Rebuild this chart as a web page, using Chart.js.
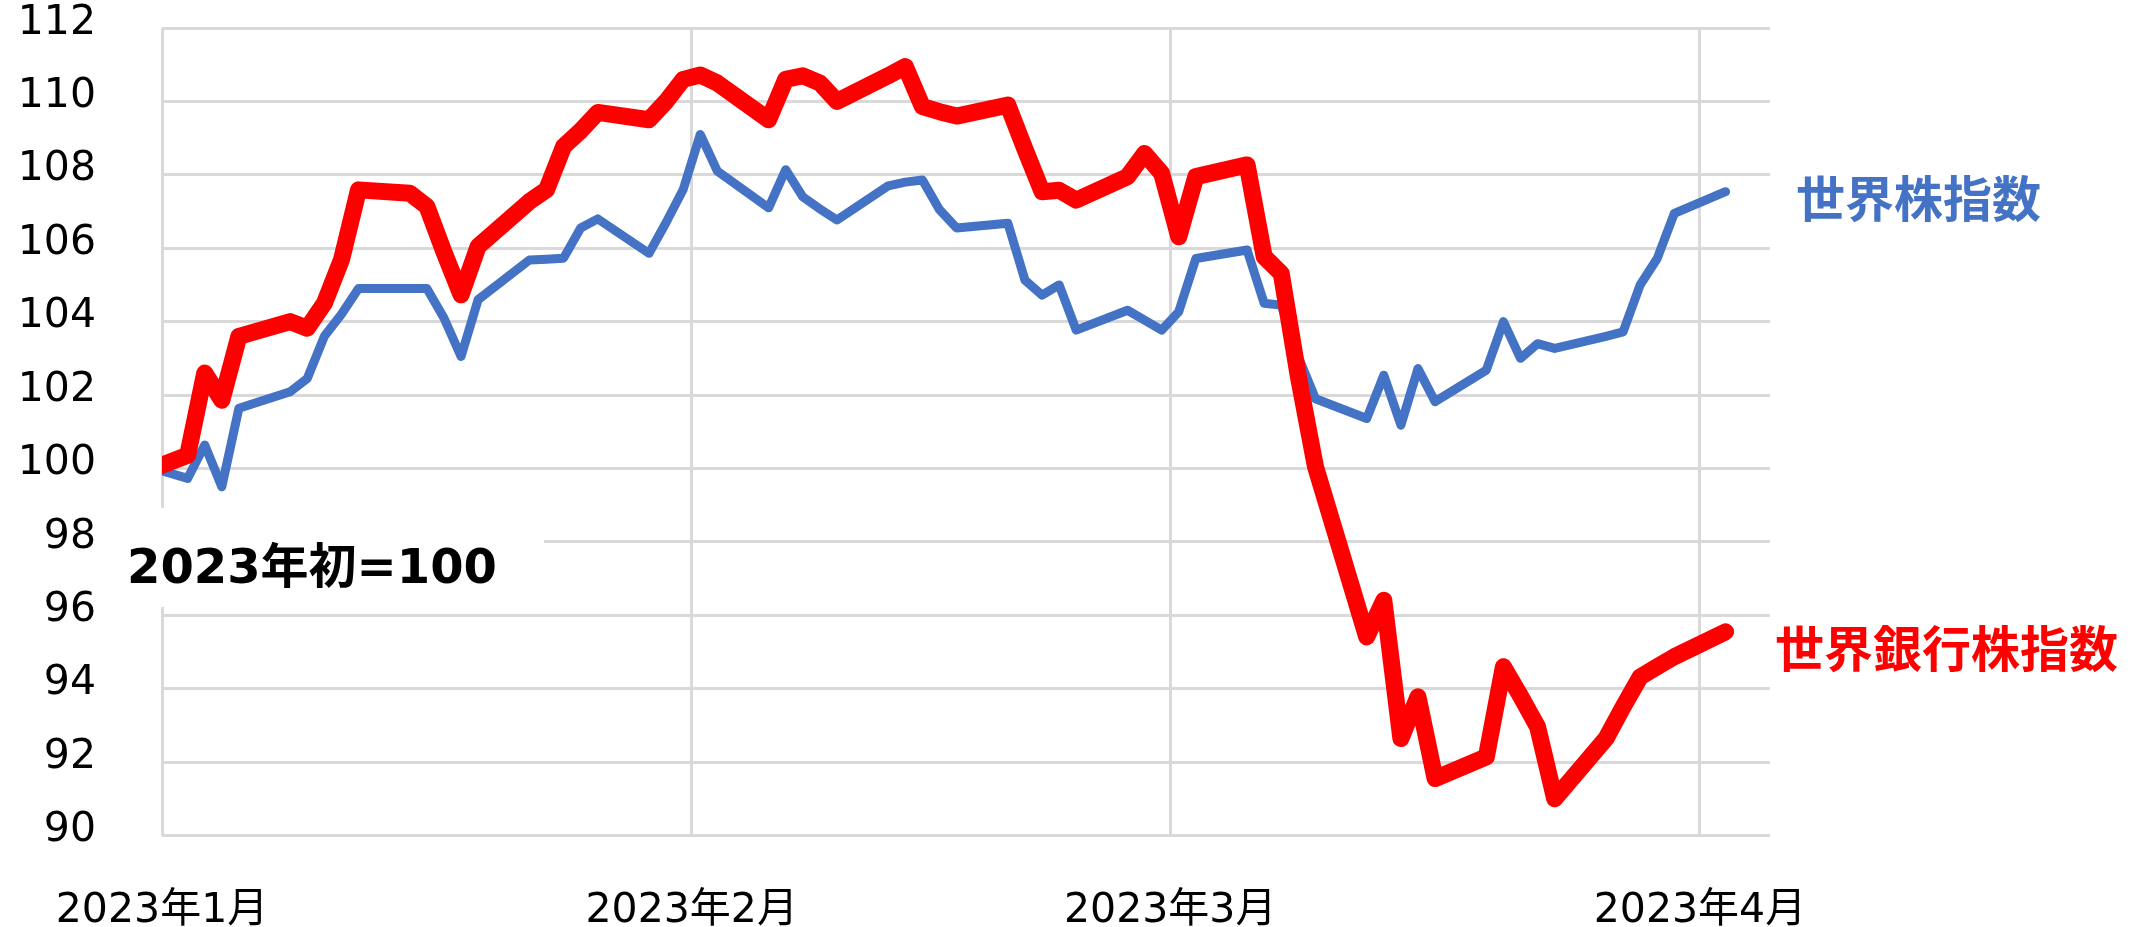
<!DOCTYPE html>
<html><head><meta charset="utf-8">
<script src="https://cdn.jsdelivr.net/npm/chart.js@4.4.0/dist/chart.umd.min.js"></script>
<style>html,body{margin:0;padding:0;background:#fff;} canvas{display:block;}</style>
</head><body>
<canvas id="c" width="2148" height="927"></canvas>
<script>
// ---- data ----
const dates = ['2023-01-01','2023-01-03','2023-01-04','2023-01-05','2023-01-06','2023-01-09','2023-01-10','2023-01-11','2023-01-12','2023-01-13',
'2023-01-16','2023-01-17','2023-01-18','2023-01-19','2023-01-20','2023-01-23','2023-01-24','2023-01-25','2023-01-26','2023-01-27',
'2023-01-30','2023-01-31','2023-02-01','2023-02-02','2023-02-03','2023-02-06','2023-02-07','2023-02-08','2023-02-09','2023-02-10',
'2023-02-13','2023-02-14','2023-02-15','2023-02-16','2023-02-17','2023-02-20','2023-02-21','2023-02-22','2023-02-23','2023-02-24',
'2023-02-27','2023-02-28','2023-03-01','2023-03-02','2023-03-03','2023-03-06','2023-03-07','2023-03-08','2023-03-09','2023-03-10',
'2023-03-13','2023-03-14','2023-03-15','2023-03-16','2023-03-17','2023-03-20','2023-03-21','2023-03-22','2023-03-23','2023-03-24',
'2023-03-27','2023-03-28','2023-03-29','2023-03-30','2023-03-31','2023-04-03'];

const worldStockIndex = [100,99.73,100.64,99.5,101.64,102.09,102.45,103.6,104.2,104.9,
104.9,104.9,104.1,103.05,104.6,105.68,105.7,105.73,106.55,106.8,
105.86,106.7,107.6,109.1,108.1,107.1,108.14,107.4,107.07,106.77,
107.7,107.8,107.86,107.05,106.55,106.68,105.13,104.72,105.0,103.77,
104.31,104.04,103.77,104.27,105.72,105.95,104.5,104.45,103.04,101.9,
101.36,102.54,101.18,102.72,101.82,102.68,104.0,103.0,103.4,103.27,
103.6,103.72,105.0,105.72,106.95,107.54];

const worldBankIndex = [100,100.36,102.6,101.86,103.6,104.0,103.82,104.5,105.68,107.59,
107.5,107.14,105.9,104.73,106.05,107.27,107.59,108.77,109.2,109.7,
109.5,110.0,110.6,110.72,110.5,109.5,110.6,110.7,110.5,110.0,
110.7,110.95,109.86,109.72,109.6,109.9,108.7,107.54,107.58,107.31,
107.95,108.58,108.04,106.31,107.95,108.27,105.77,105.31,102.5,100.05,
95.41,96.41,92.64,93.78,91.55,92.14,94.6,93.8,92.96,91.0,
92.64,93.5,94.32,94.6,94.87,95.55];

const seriesNames = ['世界株指数', '世界銀行株指数'];
const monthTickDates = ['2023-01-01','2023-02-01','2023-03-01','2023-04-01'];
const monthTickLabels = ['2023年1月','2023年2月','2023年3月','2023年4月'];
const baseNote = '2023年初=100';
const yMin = 90, yMax = 112, yStep = 2;

// ---- helpers ----
const ORIGIN = Date.UTC(2023, 0, 1);
function dayNum(s) { const [y, m, d] = s.split('-').map(Number); return (Date.UTC(y, m - 1, d) - ORIGIN) / 86400000; }
const SLOT = 0.5;          // month boundaries sit half a day after each date's position
const X_MIN = SLOT, X_MAX = 94.6;

const toPoints = vals => dates.map((d, i) => ({ x: dayNum(d), y: vals[i] }));
const tickValues = monthTickDates.map(d => dayNum(d) + SLOT);

const BLUE = '#4472C4', RED = '#FF0000', GRID = '#D9D9D9';
const tickFont = { family: '"DejaVu Sans", "Noto Sans CJK JP"', size: 41 };

const textPlugin = {
  id: 'texts',
  beforeDatasetsDraw(chart) {
    const ctx = chart.ctx;
    ctx.save();
    ctx.fillStyle = '#ffffff';
    ctx.fillRect(110, 508, 434, 99);
    ctx.fillStyle = '#000000';
    ctx.font = 'bold 48px "DejaVu Sans", "Noto Sans CJK JP"';
    ctx.textBaseline = 'alphabetic';
    ctx.textAlign = 'left';
    ctx.fillText(baseNote, 127, 583);
    ctx.restore();
  },
  afterDatasetsDraw(chart) {
    const ctx = chart.ctx;
    ctx.save();
    ctx.font = 'bold 49px "Noto Sans CJK JP"';
    ctx.textBaseline = 'middle';
    ctx.textAlign = 'left';
    ctx.fillStyle = BLUE;
    ctx.fillText(seriesNames[0], 1796, 198);
    ctx.fillStyle = RED;
    ctx.fillText(seriesNames[1], 1775, 648);
    ctx.restore();
  }
};

new Chart(document.getElementById('c'), {
  type: 'line',
  data: {
    datasets: [
      { label: seriesNames[1], data: toPoints(worldBankIndex), borderColor: RED, borderWidth: 17,
        pointRadius: 0, tension: 0, borderJoinStyle: 'round', borderCapStyle: 'round', clip: 0, fill: false },
      { label: seriesNames[0], data: toPoints(worldStockIndex), borderColor: BLUE, borderWidth: 9,
        pointRadius: 0, tension: 0, borderJoinStyle: 'round', borderCapStyle: 'round', clip: 0, fill: false }
    ]
  },
  options: {
    responsive: false,
    animation: false,
    devicePixelRatio: 1,
    layout: { padding: { left: 0, right: 378, top: 28, bottom: 0 } },
    plugins: { legend: { display: false }, tooltip: { enabled: false } },
    scales: {
      x: {
        type: 'linear', min: X_MIN, max: X_MAX,
        afterBuildTicks: s => { s.ticks = tickValues.map(v => ({ value: v })); },
        afterFit: s => { s.height = 91.5; s.paddingLeft = 0; s.paddingRight = 0; },
        ticks: {
          autoSkip: false, maxRotation: 0, minRotation: 0, padding: 51,
          font: tickFont, color: '#000',
          callback: (v, i) => monthTickLabels[i]
        },
        grid: { color: GRID, lineWidth: 3, drawTicks: false },
        border: { display: false }
      },
      y: {
        min: yMin, max: yMax,
        afterFit: s => { s.width = 162; s.paddingTop = 0; s.paddingBottom = 0; },
        ticks: { stepSize: yStep, padding: 66, font: tickFont, color: '#000', labelOffset: -5 },
        grid: { color: GRID, lineWidth: 3, drawTicks: false },
        border: { display: false }
      }
    }
  },
  plugins: [textPlugin]
});
</script>
</body></html>
